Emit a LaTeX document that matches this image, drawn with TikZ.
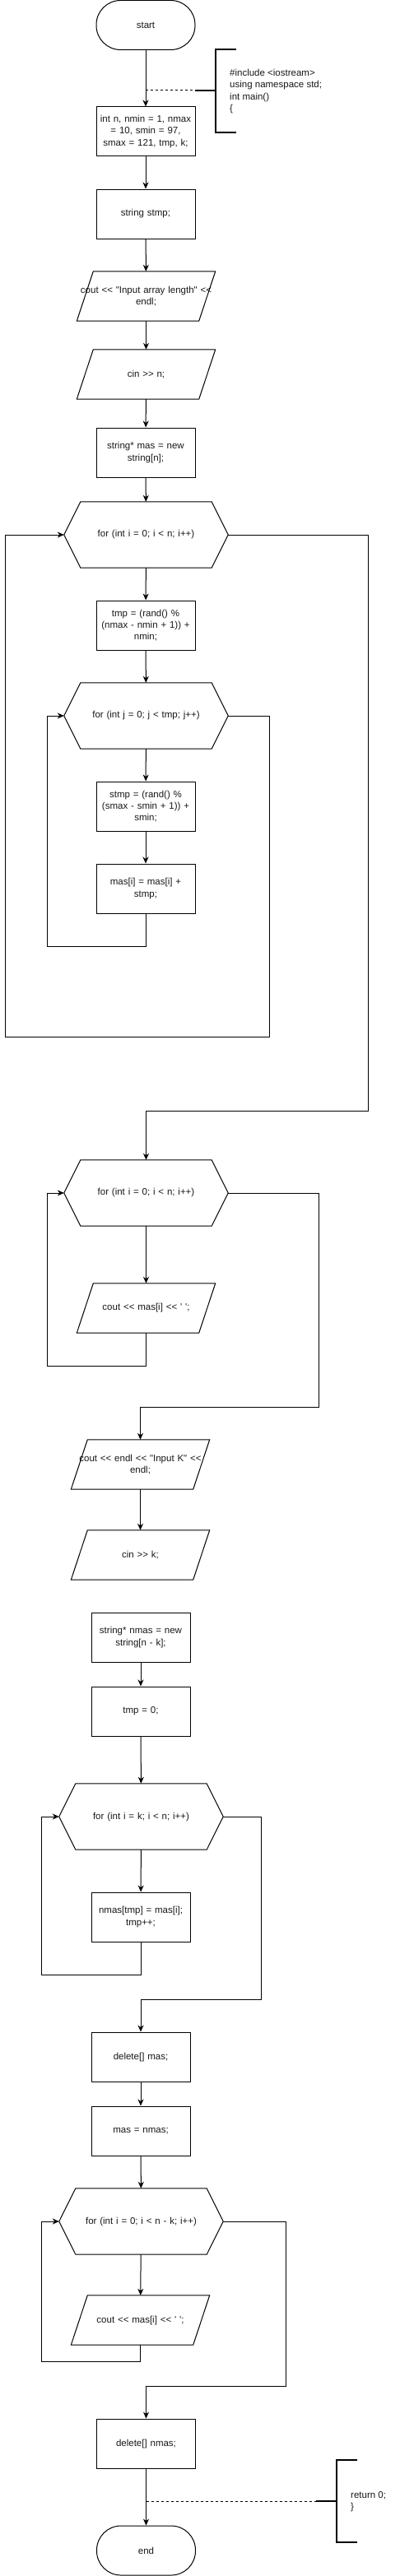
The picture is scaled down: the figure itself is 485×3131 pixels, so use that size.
\documentclass[tikz,border=0pt]{standalone}
\usepackage{fontspec}
\setmainfont{Liberation Sans}[Ligatures=TeXOff]
\usetikzlibrary{arrows.meta}
\newcommand\drawparal[1]{\draw[shapeline] ([xshift=20pt]#1.north west) -- (#1.north east) -- ([xshift=-20pt]#1.south east) -- (#1.south west) -- cycle;}
\newcommand\drawhexa[1]{\draw[shapeline] ([xshift=20pt]#1.north west) -- ([xshift=-20pt]#1.north east) -- (#1.east) -- ([xshift=-20pt]#1.south east) -- ([xshift=20pt]#1.south west) -- (#1.west) -- cycle;}
\tikzset{
  base/.style={font=\fontsize{11.5}{14.4}\selectfont, align=center, inner sep=0pt, text=black!90},
  shapeline/.style={draw=black, line width=1pt},
  proc/.style={base, shapeline, minimum width=120pt, minimum height=60pt, text width=120pt},
  term/.style={proc, rounded corners=29.5pt},
  io/.style={base, minimum width=168pt, minimum height=60pt, text width=168pt},
  loopf/.style={base, minimum width=199pt, minimum height=80pt, text width=199pt},
  arr/.style={line width=1pt, -{Stealth[length=8pt,width=7pt,inset=2.5pt]}},
  dashline/.style={line width=1pt, dash pattern=on 3pt off 3pt},
  brk/.style={line width=2pt}
}
\begin{document}
\begin{tikzpicture}[x=1pt,y=-1pt]
\fill[white] (0,0) rectangle (485,3131);
\useasboundingbox (0,0) rectangle (485,3131);

% nodes
\node[term] (start) at (177,30.5) {start};
\node[proc] (b1) at (177,160) {int n, nmin = 1, nmax\\ = 10, smin = 97,\\ smax = 121, tmp, k;};
\node[proc] (b2) at (177,260) {string stmp;};
\node[io] (p1) at (177.5,360) {cout << "Input array length" <<\\ endl;};
\node[io] (p2) at (177.5,455) {cin >> n;};
\node[proc] (b3) at (177,550) {string* mas = new\\ string[n];};
\node[loopf] (h1) at (177.5,650) {for (int i = 0; i < n; i++)};
\node[proc] (b4) at (177,760) {tmp = (rand() \%\\ (nmax - nmin + 1)) +\\ nmin;};
\node[loopf] (h2) at (177.5,870) {for (int j = 0; j < tmp; j++)};
\node[proc] (b5) at (177,980) {stmp = (rand() \%\\ (smax - smin + 1)) +\\ smin;};
\node[proc] (b6) at (177,1080) {mas[i] = mas[i] +\\ stmp;};
\node[loopf] (h3) at (177.5,1450) {for (int i = 0; i < n; i++)};
\node[io] (p3) at (177.5,1590) {cout << mas[i] << ' ';};
\node[io] (p4) at (170.5,1780) {cout << endl << "Input K" <<\\ endl;};
\node[io] (p5) at (170.5,1890) {cin >> k;};
\node[proc] (b7) at (171,1990) {string* nmas = new\\ string[n - k];};
\node[proc] (b8) at (171,2080) {tmp = 0;};
\node[loopf] (h4) at (171.5,2208) {for (int i = k; i < n; i++)};
\node[proc] (b9) at (171,2330) {nmas[tmp] = mas[i];\\ tmp++;};
\node[proc] (b10) at (171,2500) {delete[] mas;};
\node[proc] (b11) at (171,2590) {mas = nmas;};
\node[loopf] (h5) at (171.5,2700) {for (int i = 0; i < n - k; i++)};
\node[io] (p6) at (170.5,2820) {cout << mas[i] << ' ';};
\node[proc] (b12) at (177.5,2970) {delete[] nmas;};
\node[term] (stop) at (177.5,3100) {end};

% shapes
\drawparal{p1}\drawparal{p2}\drawparal{p3}\drawparal{p4}\drawparal{p5}\drawparal{p6}
\drawhexa{h1}\drawhexa{h2}\drawhexa{h3}\drawhexa{h4}\drawhexa{h5}

% straight connectors
\draw[arr] (start) -- (b1);
\draw[arr] (b1) -- (b2);
\draw[arr] (b2) -- (p1);
\draw[arr] (p1) -- (p2);
\draw[arr] (p2) -- (b3);
\draw[arr] (b3) -- (h1);
\draw[arr] (h1) -- (b4);
\draw[arr] (b4) -- (h2);
\draw[arr] (h2) -- (b5);
\draw[arr] (b5) -- (b6);
\draw[arr] (h3) -- (p3);
\draw[arr] (p4) -- (p5);
\draw[arr] (b7) -- (b8);
\draw[arr] (b8) -- (h4);
\draw[arr] (h4) -- (b9);
\draw[arr] (b10) -- (b11);
\draw[arr] (b11) -- (h5);
\draw[arr] (h5) -- (p6);
\draw[arr] (b12) -- (stop);

% loops
\draw[arr] (b6.south) -- ++(0,40) -| ([xshift=-20pt]h2.west) -- (h2.west);
\draw[arr] (h2.east) -- ++(50,0) -- ++(0,390) -| ([xshift=-71pt]h1.west) -- (h1.west);
\draw[arr] (h1.east) -| ++(170,700) -| (h3.north);
\draw[arr] (p3.south) -- ++(0,40) -| ([xshift=-20pt]h3.west) -- (h3.west);
\draw[arr] (h3.east) -| ++(110,260) -| (p4.north);
\draw[arr] (b9.south) -- ++(0,40) -| ([xshift=-21pt]h4.west) -- (h4.west);
\draw[arr] (h4.east) -| ++(46,222) -| (b10.north);
\draw[arr] (p6.south) -- ++(0,20) -| ([xshift=-21pt]h5.west) -- (h5.west);
\draw[arr] (h5.east) -| ++(76,200) -| (b12.north);

% annotations
\coordinate (d1) at (177,110);
\draw[dashline] (d1) -- (237,110);
\draw[brk] (237,110) -- (262,110);
\draw[brk] (287,60) -- (262,60) -- (262,161) -- (287,161);
\node[base, anchor=west, align=left] (note1) at (279,111) {\#include <iostream>\\ using namespace std;\\ int main()\\ \{};

\coordinate (d2) at (177.5,3040);
\draw[dashline] (d2) -- (384,3040);
\draw[brk] (384,3040) -- (409,3040);
\draw[brk] (434,2990) -- (409,2990) -- (409,3090) -- (434,3090);
\node[base, anchor=west, align=left] (note2) at (426,3040.5) {return 0;\\ \}};
\end{tikzpicture}
\end{document}
